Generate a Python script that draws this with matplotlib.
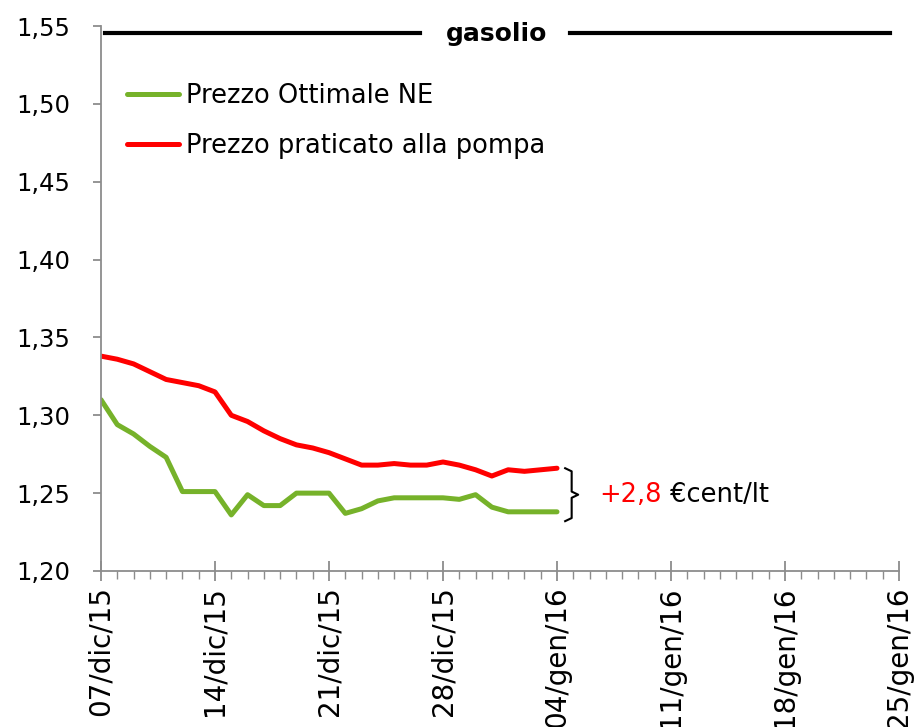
import datetime as dt
import numpy as np
import matplotlib
matplotlib.use("Agg")
import matplotlib.pyplot as plt
import matplotlib.dates as mdates

# daily values, 07/dic/15 .. 04/gen/16
start = dt.date(2015, 12, 7)
days = [start + dt.timedelta(days=i) for i in range(29)]

ottimale = [1.310, 1.294, 1.288, 1.280, 1.273, 1.251, 1.251, 1.251, 1.236, 1.249,
            1.242, 1.242, 1.250, 1.250, 1.250, 1.237, 1.240, 1.245, 1.247, 1.247,
            1.247, 1.247, 1.246, 1.249, 1.241, 1.238, 1.238, 1.238, 1.238]
pompa = [1.338, 1.336, 1.333, 1.328, 1.323, 1.321, 1.319, 1.315, 1.300, 1.296,
         1.290, 1.285, 1.281, 1.279, 1.276, 1.272, 1.268, 1.268, 1.269, 1.268,
         1.268, 1.270, 1.268, 1.265, 1.261, 1.265, 1.264, 1.265, 1.266]

y_ticks = [1.20, 1.25, 1.30, 1.35, 1.40, 1.45, 1.50, 1.55]
x_tick_dates = [start + dt.timedelta(days=7 * i) for i in range(8)]
x_tick_labels = ["07/dic/15", "14/dic/15", "21/dic/15", "28/dic/15",
                 "04/gen/16", "11/gen/16", "18/gen/16", "25/gen/16"]
delta_label = "+2,8"

green = "#76B22A"
red = "#FF0000"
grey = "#8C8C8C"
font = "DejaVu Sans"

fig = plt.figure(figsize=(9.14, 7.27), dpi=100)
ax = fig.add_axes([0.1105, 0.2146, 0.8731, 0.7496])

ax.plot(days, ottimale, color=green, lw=3.6, label="Prezzo Ottimale NE",
        solid_capstyle="round", solid_joinstyle="round")
ax.plot(days, pompa, color=red, lw=3.6, label="Prezzo praticato alla pompa",
        solid_capstyle="round", solid_joinstyle="round")

ax.set_ylim(1.20, 1.55)
ax.set_xlim(mdates.date2num(x_tick_dates[0]), mdates.date2num(x_tick_dates[-1]))
ax.set_yticks(y_ticks)
ax.set_yticklabels([f"{v:.2f}".replace(".", ",") for v in y_ticks],
                   fontsize=17.5, family=font)
ax.set_xticks([mdates.date2num(d) for d in x_tick_dates])
ax.set_xticklabels(x_tick_labels, rotation=90, fontsize=20, family=font)
ax.xaxis.set_minor_locator(mdates.DayLocator())

for s in ["top", "right"]:
    ax.spines[s].set_visible(False)
for s in ["left", "bottom"]:
    ax.spines[s].set_color(grey)
    ax.spines[s].set_linewidth(1.3)
ax.tick_params(axis="y", direction="out", length=6, width=1.3, color=grey, pad=16)
ax.tick_params(axis="x", which="major", direction="inout", length=14, width=1.3,
               color=grey, pad=4)
ax.tick_params(axis="x", which="minor", direction="out", length=6, width=1.0,
               color=grey)

# title with lines either side
ax.plot([0.005, 0.40], [0.987, 0.987], transform=ax.transAxes, color="black",
        lw=3, clip_on=False)
ax.plot([0.588, 0.989], [0.987, 0.987], transform=ax.transAxes, color="black",
        lw=3, clip_on=False)
ax.text(0.496, 0.985, "gasolio", transform=ax.transAxes, ha="center", va="center",
        fontsize=18, fontweight="bold", family=font)

ax.legend(loc="upper left", bbox_to_anchor=(0.02, 0.915), frameon=False,
          prop={"family": font, "size": 18.5}, handlelength=2.0,
          handletextpad=0.27, labelspacing=0.95, borderaxespad=0)

# curly bracket between the last two values
x0 = mdates.date2num(days[-1])
top, bot = pompa[-1], ottimale[-1] - 0.006
mid = (top + bot) / 2
bx = x0 + np.array([0.5, 0.9, 0.9, 1.3, 0.9, 0.9, 0.5])
by = np.array([top, top - 0.002, mid + 0.002, mid, mid - 0.002, bot + 0.002, bot])
ax.plot(bx, by, color="black", lw=1.5, clip_on=False)

t1 = ax.text(x0 + 2.6, mid, delta_label, color=red, fontsize=18.5, family=font,
             va="center")
ax.annotate(" \u20accent/lt", xy=(1, 0.5), xycoords=t1, va="center",
            fontsize=18.5, family=font, color="black")

fig.savefig("out.png", dpi=100)
